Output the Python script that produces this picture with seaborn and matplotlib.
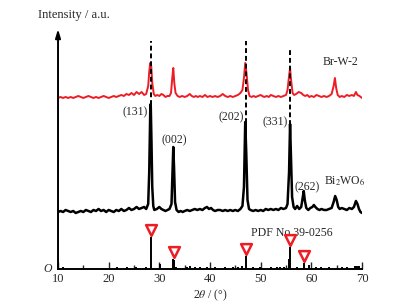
import matplotlib
matplotlib.use('Agg')
import matplotlib.pyplot as plt
import numpy as np
import pandas as pd
import seaborn as sns

# Bi2WO6 pattern (2theta, intensity a.u.)
bwo_2t = [10.0, 10.5, 11.0, 11.5, 12.0, 12.5, 13.0, 13.5, 14.0, 14.5, 15.0, 15.5, 16.0, 16.5,
          17.0, 17.5, 18.0, 18.5, 19.0, 19.5, 20.0, 20.5, 21.0, 21.5, 22.0, 22.5, 23.0, 23.5,
          24.0, 24.5, 25.0, 25.5, 26.0, 26.5, 27.0, 27.4, 27.8, 28.0, 28.2, 28.3, 28.45, 28.6,
          28.8, 29.0, 29.5, 30.0, 30.4, 30.8, 31.2, 31.6, 32.0, 32.4, 32.6, 32.75, 32.9, 33.1,
          33.4, 33.8, 34.2, 34.6, 35.0, 35.5, 36.0, 36.5, 37.0, 37.5, 38.0, 38.5, 39.0, 39.4,
          39.8, 40.2, 40.6, 41.0, 41.5, 42.0, 42.5, 43.0, 43.5, 44.0, 44.5, 45.0, 45.5, 46.0,
          46.4, 46.7, 46.95, 47.15, 47.4, 47.7, 48.0, 48.5, 49.0, 49.5, 50.0, 50.5, 51.0, 51.5,
          52.0, 52.5, 53.0, 53.5, 54.0, 54.5, 55.0, 55.3, 55.6, 55.8, 56.0, 56.2, 56.5, 56.8,
          57.2, 57.6, 58.0, 58.3, 58.5, 58.7, 59.0, 59.4, 59.8, 60.2, 60.5, 60.8, 61.2, 61.6,
          62.0, 62.5, 63.0, 63.5, 64.0, 64.4, 64.7, 65.0, 65.3, 65.6, 66.0, 66.5, 67.0, 67.5,
          68.0, 68.4, 68.8, 69.1, 69.4, 69.7, 70.0]
bwo_int = [0, 1, 0, 2, 1, 0, 1, -1, 0, 1, 0, 2, 1, 0,
           2, 1, 3, 1, 2, 0, 2, 1, 0, 2, 1, 3, 1, 2,
           4, 2, 3, 5, 3, 4, 5, 3, 8, 40, 100, 108, 70, 25,
           6, 2, 3, 5, 3, 2, 1, 2, 3, 8, 40, 65, 45, 10,
           2, 0, 1, 0, 1, 2, 1, 2, 3, 2, 3, 2, 4, 5,
           3, 4, 2, 1, 2, 2, 1, 2, 1, 2, 1, 2, 1, 3,
           6, 25, 90, 60, 12, 3, 2, 1, 2, 1, 2, 1, 3, 2,
           3, 2, 3, 2, 4, 3, 4, 8, 40, 88, 50, 15, 5, 3,
           6, 3, 5, 15, 21, 12, 4, 2, 4, 5, 7, 5, 3, 2,
           3, 2, 2, 3, 4, 10, 16, 12, 5, 3, 4, 3, 2, 4,
           3, 5, 11, 8, 3, 0, -1]

# Br-W-2 pattern
brw_2t = [10.0, 10.5, 11.0, 11.5, 12.0, 12.5, 13.0, 13.5, 14.0, 14.5, 15.0, 15.5, 16.0, 16.5,
          17.0, 17.5, 18.0, 18.5, 19.0, 19.5, 20.0, 20.5, 21.0, 21.5, 22.0, 22.5, 23.0, 23.5,
          24.0, 24.5, 25.0, 25.5, 26.0, 26.5, 27.0, 27.4, 27.8, 28.0, 28.2, 28.4, 28.6, 28.9,
          29.2, 29.6, 30.0, 30.4, 30.8, 31.2, 31.6, 32.0, 32.3, 32.55, 32.75, 32.95, 33.2, 33.6,
          34.0, 34.5, 35.0, 35.5, 36.0, 36.4, 36.8, 37.2, 37.6, 38.0, 38.5, 39.0, 39.5, 40.0,
          40.5, 41.0, 41.5, 42.0, 42.5, 43.0, 43.5, 44.0, 44.5, 45.0, 45.5, 46.0, 46.4, 46.7,
          46.95, 47.2, 47.5, 47.8, 48.2, 48.6, 49.0, 49.5, 50.0, 50.3, 50.7, 51.2, 51.6, 52.0,
          52.5, 53.0, 53.5, 54.0, 54.5, 55.0, 55.3, 55.6, 55.8, 56.0, 56.3, 56.6, 57.0, 57.5,
          58.0, 58.4, 58.8, 59.2, 59.6, 60.0, 60.5, 61.0, 61.5, 62.0, 62.5, 63.0, 63.5, 64.0,
          64.4, 64.65, 64.9, 65.2, 65.6, 66.0, 66.5, 67.0, 67.5, 68.0, 68.4, 68.8, 69.1, 69.5,
          70.0]
brw_int = [0, 1, 0, 1, 0, 1, 0, 1, 2, 1, 0, 1, 2, 1,
           0, 1, 0, 1, 2, 1, 0, 1, 2, 1, 2, 3, 2, 4,
           3, 5, 3, 6, 4, 6, 3, 4, 12, 26, 35, 32, 15, 4,
           2, 3, 2, 4, 3, 1, 2, 2, 5, 20, 30, 15, 5, 2,
           1, 2, 1, 2, 4, 2, 1, 2, 1, 2, 1, 3, 1, 2,
           1, 2, 1, 2, 4, 2, 1, 2, 1, 2, 3, 5, 8, 20,
           35, 25, 8, 2, 1, 2, 1, 2, 3, 2, 1, 2, 1, 3,
           2, 1, 2, 1, 2, 3, 8, 22, 30, 18, 5, 3, 4, 6,
           5, 3, 2, 3, 1, 2, 1, 3, 2, 1, 2, 1, 2, 4,
           12, 20, 10, 3, 1, 2, 1, 3, 2, 3, 2, 6, 3, 2,
           0]

# PDF No.39-0256 reference lines
pdf_2t = [10.9, 21.6, 23.7, 25.3, 27.4, 28.3, 30.1, 32.7, 32.9, 33.3, 35.4, 36.0, 37.0,
          38.0, 39.5, 41.0, 43.0, 44.5, 45.5, 46.4, 47.1, 48.5, 49.8, 52.0, 53.2, 53.9,
          54.6, 55.6, 55.8, 57.2, 58.5, 59.5, 61.0, 62.0, 63.5, 66.0, 67.0, 68.6, 68.9,
          69.2, 69.5]
pdf_int = [2, 2, 2, 2, 2, 32, 5, 10, 9, 2, 2, 3, 2,
           2, 2, 2, 2, 2, 2, 3, 13, 2, 2, 2, 2, 2,
           2, 10, 22, 2, 6, 4, 2, 2, 2, 2, 2, 3, 3,
           3, 3]
marked_2t = [28.3, 32.8, 47.1, 55.8, 58.5]
marked_int = [32, 10, 13, 22, 6]

bwo_offset = 57
brw_offset = 171
red = '#ee1c25'

sns.set_style('white')
plt.rcParams['font.family'] = ['Liberation Serif', 'DejaVu Serif']
plt.rcParams['mathtext.fontset'] = 'stix'

fig = plt.figure(figsize=(3.99, 3.07), dpi=100)
ax = fig.add_axes([0.1454, 0.1238, 0.7619, 0.7818])

bwo = pd.DataFrame({'t': bwo_2t, 'i': np.array(bwo_int) + bwo_offset})
brw = pd.DataFrame({'t': brw_2t, 'i': np.array(brw_int) + brw_offset})
sns.lineplot(data=bwo, x='t', y='i', ax=ax, color='black', lw=1.8, sort=False)
sns.lineplot(data=brw, x='t', y='i', ax=ax, color=red, lw=1.4, sort=False)

ax.vlines(pdf_2t, 0, pdf_int, color='black', lw=1.4)
mk = pd.DataFrame({'t': marked_2t, 'i': np.array(marked_int) + 7})
sns.scatterplot(data=mk, x='t', y='i', ax=ax, marker='v', s=60,
                facecolor='white', edgecolor=red, linewidth=1.8, zorder=5)

# dashed guide lines
ax.vlines([28.3, 47.1, 55.8], [164, 146, 144], [228, 228, 219], color='black',
          lw=1.4, linestyles=(0, (2.5, 1.5)))

fs = 8.5
ax.text(27.8, 157, '(131)', ha='right', va='center', fontsize=fs)
ax.text(32.9, 129, '(002)', ha='center', va='center', fontsize=fs)
ax.text(46.6, 152, '(202)', ha='right', va='center', fontsize=fs)
ax.text(55.4, 147, '(331)', ha='right', va='center', fontsize=fs)
ax.text(59.2, 82, '(262)', ha='center', va='center', fontsize=fs)
ax.text(62.4, 88, r'Bi$_2$WO$_6$', ha='left', va='center', fontsize=fs)
ax.text(65.7, 207, 'Br-W-2', ha='center', va='center', fontsize=fs)
ax.text(56.2, 36, 'PDF No.39-0256', ha='center', va='center', fontsize=fs)

ax.set_xlim(10, 70)
ax.set_ylim(0, 240)
ax.set_xticks([10, 20, 30, 40, 50, 60, 70])
ax.set_xticks([15, 25, 35, 45, 55, 65], minor=True)
ax.set_yticks([])
ax.tick_params(axis='x', which='major', direction='in', length=5, width=1,
               labelsize=fs + 0.5, pad=3, bottom=True)
ax.tick_params(axis='x', which='minor', direction='in', length=3, width=1, bottom=True)
for s in ['top', 'right']:
    ax.spines[s].set_visible(False)
ax.spines['left'].set_visible(False)
ax.spines['bottom'].set_linewidth(1.4)
ax.spines['bottom'].set_color('black')
ax.set_xlabel(r'2$\theta$ / (°)', fontsize=fs, labelpad=2)
ax.set_ylabel('')

ax.annotate('', xy=(0, 1.0), xytext=(0, 0), xycoords='axes fraction',
            arrowprops=dict(arrowstyle='-|>,head_length=0.5,head_width=0.15',
                            color='black', lw=1.4, shrinkA=0, shrinkB=0))
ax.text(-0.065, 1.035, 'Intensity / a.u.', transform=ax.transAxes, ha='left',
        va='bottom', fontsize=9)
ax.text(-0.02, 0.0, 'O', transform=ax.transAxes, ha='right', va='center',
        fontsize=fs, style='italic')

fig.savefig('out.png', dpi=100)
